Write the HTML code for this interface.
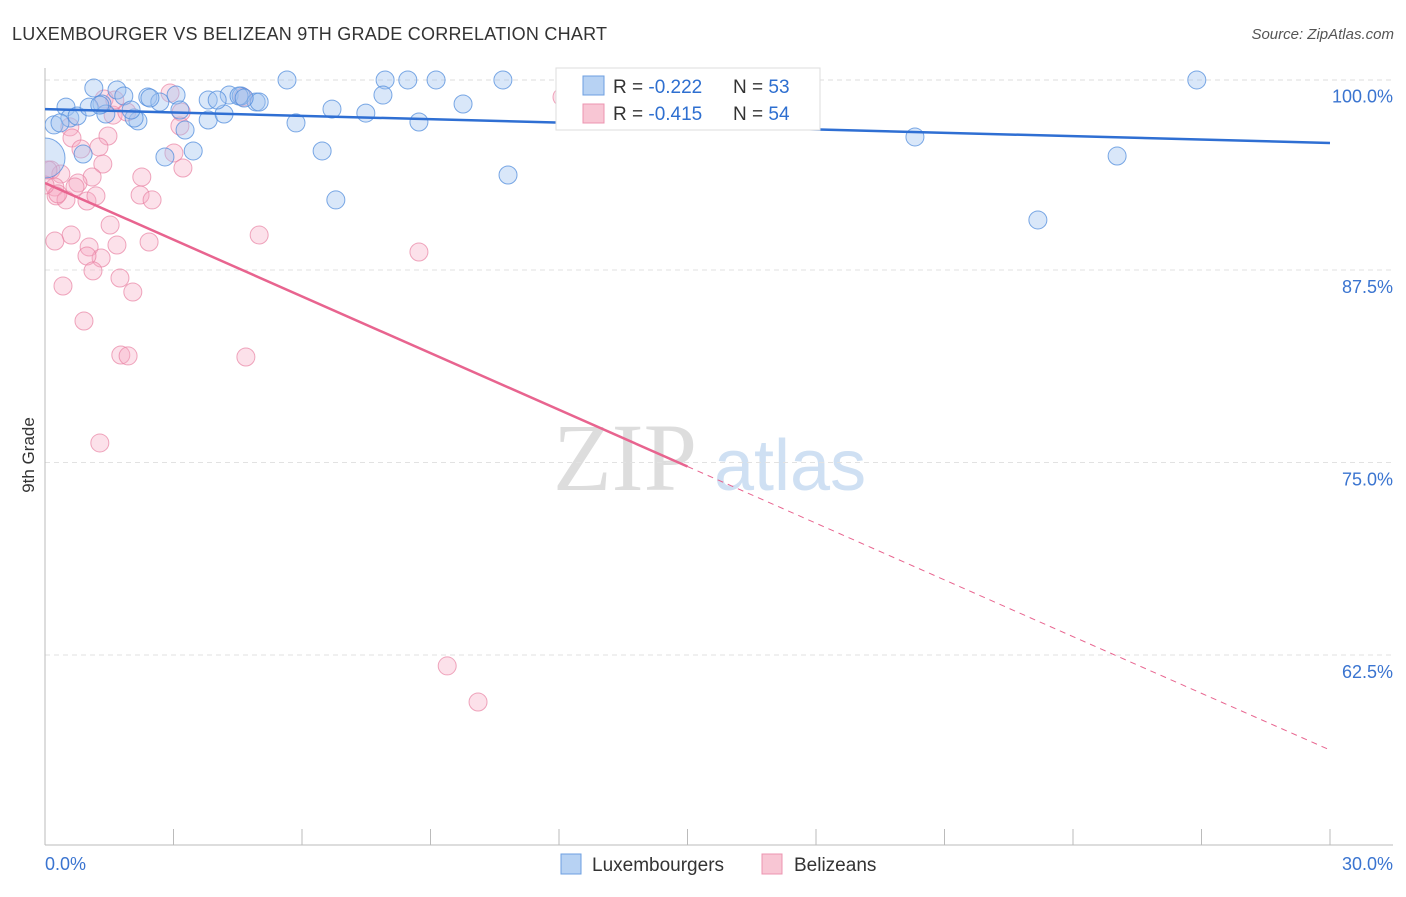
<!DOCTYPE html>
<html><head><meta charset="utf-8"><style>
body{margin:0;background:#fff;font-family:"Liberation Sans",sans-serif}
svg text{font-family:"Liberation Sans",sans-serif}
</style></head><body>
<svg id="c" width="1406" height="892">
<defs><clipPath id="pc"><rect x="45" y="60" width="1350" height="785"/></clipPath></defs>
<text x="12" y="40" font-size="18" fill="#333" textLength="595">LUXEMBOURGER VS BELIZEAN 9TH GRADE CORRELATION CHART</text>
<text x="1394" y="39" font-size="15" fill="#555" text-anchor="end" font-style="italic">Source: ZipAtlas.com</text>
<text transform="translate(34,455) rotate(-90)" font-size="17" fill="#333" text-anchor="middle">9th Grade</text>
<g><text x="553" y="490" font-size="96" fill="#ddd" style="font-family:'Liberation Serif',serif">ZIP</text><text x="714" y="490" font-size="72" fill="#cfe0f3">atlas</text></g>
<g id="grid"></g><g id="marks" clip-path="url(#pc)"></g>
<g>
<rect x="556" y="68" width="264" height="62" fill="#fff" stroke="#ddd"/>
<rect x="583" y="76" width="21" height="19" fill="#b7d2f3" stroke="#6d9fe0"/>
<rect x="583" y="104" width="21" height="19" fill="#f8c6d4" stroke="#ec94b0"/>
<text x="613" y="93" font-size="19" fill="#333">R = <tspan fill="#2e6fd0">-0.222</tspan></text>
<text x="733" y="93" font-size="19" fill="#333">N = <tspan fill="#2e6fd0">53</tspan></text>
<text x="613" y="120" font-size="19" fill="#333">R = <tspan fill="#2e6fd0">-0.415</tspan></text>
<text x="733" y="120" font-size="19" fill="#333">N = <tspan fill="#2e6fd0">54</tspan></text>
</g>
<g>
<rect x="561" y="854" width="20" height="20" fill="#b7d2f3" stroke="#6d9fe0"/>
<text x="592" y="871" font-size="19" fill="#333">Luxembourgers</text>
<rect x="762" y="854" width="20" height="20" fill="#f8c6d4" stroke="#ec94b0"/>
<text x="794" y="871" font-size="19" fill="#333">Belizeans</text>
</g>
</svg>
<script>
const xTicks=[0,3,6,9,12,15,18,21,24,27,30];
const yTicks=[100,87.5,75,62.5];
const yTickLabels=["100.0%","87.5%","75.0%","62.5%"];
const bluX=[1.14,1.68,0.49,1.33,1.84,2.40,2.68,3.06,3.81,4.30,4.58,4.93,5.00,5.65,7.94,8.47,9.13,10.69,26.89,0.21,0.58,0.75,1.03,1.42,2.17,2.08,3.15,3.27,3.81,4.18,4.02,5.86,6.70,7.49,7.89,8.73,9.76,6.47,6.79,10.81,2.80,3.46,0.89,0,20.31,25.03,23.18,0.35,2.01,4.53,4.65,1.28,2.45];
const bluY=[99.32,99.19,98.08,98.28,98.80,98.73,98.41,98.86,98.54,98.86,98.80,98.41,98.41,99.84,99.84,99.84,99.84,99.84,99.84,96.92,97.37,97.50,98.08,97.63,97.18,97.37,97.89,96.59,97.24,97.63,98.54,97.05,97.95,97.69,98.86,97.11,98.28,95.23,92.05,93.67,94.84,95.23,95.03,94.77,96.14,94.90,90.75,97.05,97.89,98.80,98.67,98.21,98.67];
const pnkX=[2.92,4.62,12.07,1.38,1.59,1.91,3.18,3.15,0.58,1.47,0.63,0.84,1.26,3.01,1.35,3.22,0.14,0.37,1.10,2.26,0.77,0.23,0.26,0.49,0.98,1.19,2.22,2.50,1.52,0.61,0.23,1.03,1.68,2.43,5.00,1.31,0.98,8.73,1.12,1.75,0.42,2.05,0.91,1.77,1.94,4.69,1.28,9.39,10.11,0.07,0.30,0,0.70,1.63];
const pnkY=[98.99,98.73,98.73,98.60,97.56,97.76,97.76,96.85,96.79,96.20,96.07,95.36,95.49,95.10,94.38,94.12,93.99,93.73,93.54,93.54,93.15,92.89,92.31,92.05,91.98,92.31,92.37,92.05,90.42,89.77,89.38,88.99,89.12,89.32,89.77,88.28,88.41,88.67,87.44,86.98,86.46,86.07,84.19,81.98,81.92,81.85,76.27,61.79,59.45,93.99,92.44,93.02,92.89,98.54];
const blueTrend=[97.95,95.75];
const pinkTrend=[93.15,56.33];
const pinkSolidEnd=15;
const NS="http://www.w3.org/2000/svg";
const X=v=>45+v/30*1285, Y=v=>77.5+(100-v)/12.5*192.5;
function mk(t,a,p){const e=document.createElementNS(NS,t);for(const k in a)e.setAttribute(k,a[k]);p.appendChild(e);return e;}
const g=document.getElementById('grid'),m=document.getElementById('marks');
let e=mk('line',{x1:45,x2:1393,y1:80,y2:80,stroke:'#ddd','stroke-dasharray':'5,4'},g);


yTicks.forEach((t,i)=>{
 if(i>0){const l=mk('line',{x1:45,x2:1393,y1:Y(t),y2:Y(t),stroke:'#e2e2e2','stroke-dasharray':'5,4'},g);
 
 }
 const tx=mk('text',{x:1393,y:Y(t)+(i==0?25:23),'font-size':18,fill:'#3a74d0','text-anchor':'end'},g);tx.textContent=yTickLabels[i];
 
 
});
e=mk('line',{x1:45,x2:45,y1:68,y2:845,stroke:'#bbb'},g);


e=mk('line',{x1:45,x2:1393,y1:845,y2:845,stroke:'#bbb'},g);


xTicks.forEach(t=>{const l=mk('line',{x1:X(t),x2:X(t),y1:829,y2:845,stroke:'#bbb'},g);
 
 });
[[0,'0.0%','start',45],[30,'30.0%','end',1393]].forEach(([v,s,a,x])=>{const t=mk('text',{x:x,y:870,'font-size':18,fill:'#3a74d0','text-anchor':a},g);t.textContent=s;
 
 });
pnkX.forEach((v,i)=>{const c=mk('circle',{cx:X(v),cy:Y(pnkY[i]),r:9,fill:'rgba(246,170,195,0.35)',stroke:'rgba(232,130,163,0.7)','stroke-width':1},m);
 
 });
bluX.forEach((v,i)=>{const c=mk('circle',{cx:X(v),cy:Y(bluY[i]),r:(v==0?20:9),fill:'rgba(160,195,240,0.4)',stroke:'rgba(80,140,220,0.75)','stroke-width':1},m);
 
 });
e=mk('line',{x1:X(0),y1:Y(blueTrend[0]),x2:X(30),y2:Y(blueTrend[1]),stroke:'#2f6fd3','stroke-width':2.5},m);


const pm=pinkTrend[0]+(pinkTrend[1]-pinkTrend[0])*pinkSolidEnd/30;
e=mk('line',{x1:X(0),y1:Y(pinkTrend[0]),x2:X(pinkSolidEnd),y2:Y(pm),stroke:'#e8648f','stroke-width':2.5},m);


e=mk('line',{x1:X(pinkSolidEnd),y1:Y(pm),x2:X(30),y2:Y(pinkTrend[1]),stroke:'#e8648f','stroke-width':1,'stroke-dasharray':'6,5'},m);


</script>
</body></html>
